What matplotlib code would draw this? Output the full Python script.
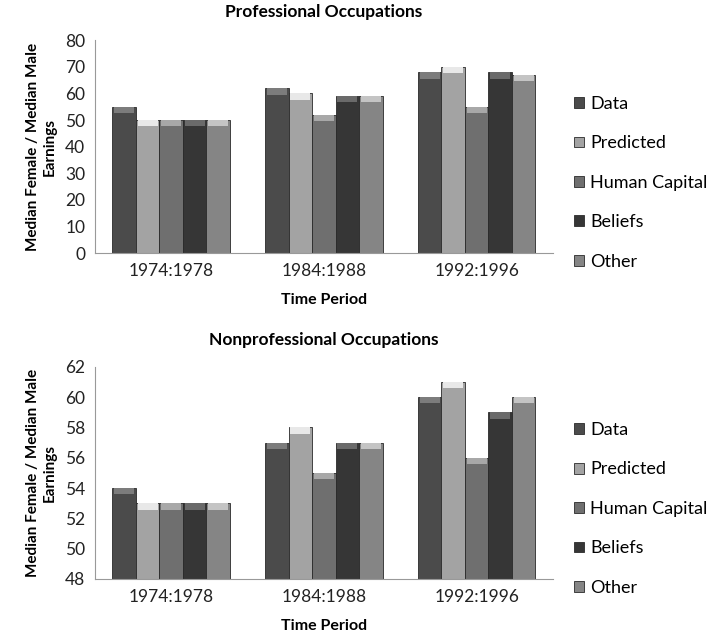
import numpy as np
import matplotlib
matplotlib.use("Agg")
from matplotlib import pyplot as plt

plt.rcParams['font.family'] = ['Lato', 'DejaVu Sans']

periods = ["1974:1978", "1984:1988", "1992:1996"]
series = ["Data", "Predicted", "Human Capital", "Beliefs", "Other"]
colors = ["#4b4b4b", "#a3a3a3", "#6f6f6f", "#363636", "#858585"]
caps = ["#7c7c7c", "#e8e8e8", "#a8a8a8", "#6a6a6a", "#c4c4c4"]

# professional occupations
prof_data = [55, 62, 68]
prof_pred = [50, 60, 70]
prof_hc = [50, 52, 55]
prof_beliefs = [50, 59, 68]
prof_other = [50, 59, 67]

# nonprofessional occupations
nonp_data = [54, 57, 60]
nonp_pred = [53, 58, 61]
nonp_hc = [53, 55, 56]
nonp_beliefs = [53, 57, 59]
nonp_other = [53, 57, 60]

fig = plt.figure(figsize=(7.08, 6.39), dpi=100)
ax1 = fig.add_axes([0.134, 0.604, 0.647, 0.333])
ax2 = fig.add_axes([0.134, 0.094, 0.647, 0.332])


def draw(ax, vals, ylo, yhi, step, title, tpad):
    x = np.arange(len(periods))
    w = 0.154
    cap = (yhi - ylo) * 0.03
    for i, v in enumerate(vals):
        v = np.array(v)
        pos = x + (i - 2) * w
        ax.bar(pos, v - ylo, w, bottom=ylo, color=colors[i], edgecolor="#2a2a2a",
               linewidth=0.6, label=series[i], zorder=2)
        ax.bar(pos, np.full(len(v), cap), w * 0.85, bottom=v - cap, color=caps[i],
               edgecolor="none", zorder=3)
    ax.set_xlim(-0.5, 2.5)
    ax.set_ylim(ylo, yhi)
    ax.set_yticks(np.arange(ylo, yhi + 0.1, step))
    ax.set_xticks(x)
    ax.set_xticklabels(periods)
    ax.tick_params(length=0, labelsize=12.5, colors="#222222", pad=7)
    for s in ["top", "right"]:
        ax.spines[s].set_visible(False)
    for s in ["left", "bottom"]:
        ax.spines[s].set_color("#999999")
    ax.set_title(title, fontsize=12.5, fontweight="bold", pad=tpad)
    ax.set_xlabel("Time Period", fontsize=11.5, fontweight="bold", labelpad=10)
    ax.set_ylabel("Median Female / Median Male\nEarnings", fontsize=11,
                  fontweight="bold", labelpad=6)
    ax.legend(loc="center left", bbox_to_anchor=(1.01, 0.33), frameon=False,
              fontsize=13, handlelength=0.55, handleheight=0.55, handletextpad=0.35,
              labelspacing=1.3)


draw(ax1, [prof_data, prof_pred, prof_hc, prof_beliefs, prof_other], 0, 80, 10,
     "Professional Occupations", 17)
draw(ax2, [nonp_data, nonp_pred, nonp_hc, nonp_beliefs, nonp_other], 48, 62, 2,
     "Nonprofessional Occupations", 16)

plt.savefig("out.png", dpi=100)
